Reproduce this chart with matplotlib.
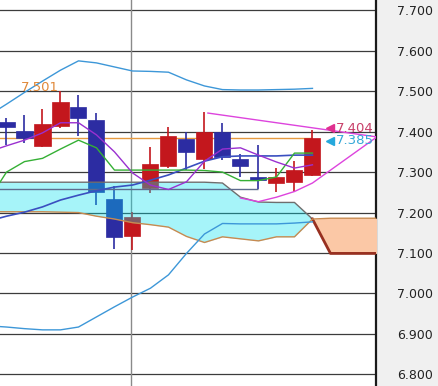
import matplotlib
matplotlib.use('Agg')
import matplotlib.pyplot as plt
import numpy as np

# ---------------- data ----------------
candle_idx = list(range(18))
opens  = [7.423, 7.402, 7.365, 7.415, 7.461, 7.429, 7.233, 7.143, 7.260, 7.315,
          7.381, 7.332, 7.398, 7.332, 7.287, 7.272, 7.275, 7.293]
highs  = [7.433, 7.441, 7.457, 7.501, 7.491, 7.445, 7.266, 7.202, 7.363, 7.412,
          7.400, 7.449, 7.422, 7.346, 7.367, 7.309, 7.328, 7.404]
lows   = [7.367, 7.372, 7.363, 7.408, 7.390, 7.219, 7.110, 7.107, 7.249, 7.309,
          7.305, 7.307, 7.330, 7.288, 7.258, 7.252, 7.252, 7.290]
closes = [7.411, 7.384, 7.419, 7.473, 7.435, 7.252, 7.140, 7.189, 7.320, 7.389,
          7.350, 7.400, 7.338, 7.315, 7.280, 7.287, 7.305, 7.385]

line_idx = list(range(-1, 18))
bb_upper = [7.440, 7.468, 7.497, 7.525, 7.552, 7.575, 7.570, 7.560, 7.550, 7.549,
            7.547, 7.528, 7.513, 7.504, 7.503, 7.503, 7.504, 7.505, 7.507]
bb_lower = [6.920, 6.917, 6.913, 6.910, 6.910, 6.917, 6.942, 6.967, 6.991, 7.013,
            7.046, 7.099, 7.147, 7.173, 7.172, 7.172, 7.172, 7.174, 7.177]
bb_mid   = [7.179, 7.191, 7.201, 7.214, 7.231, 7.243, 7.254, 7.263, 7.268, 7.280,
            7.293, 7.310, 7.327, 7.338, 7.340, 7.340, 7.340, 7.342, 7.342]
tenkan   = [7.350, 7.365, 7.379, 7.397, 7.422, 7.422, 7.392, 7.350, 7.298, 7.268,
            7.257, 7.276, 7.327, 7.357, 7.360, 7.342, 7.325, 7.310, 7.318]
kijun    = [7.231, 7.300, 7.326, 7.334, 7.357, 7.379, 7.360, 7.305, 7.305, 7.305,
            7.305, 7.305, 7.304, 7.300, 7.279, 7.279, 7.288, 7.347, 7.347]

cloud_idx = list(range(-1, 22))
span_a = [7.275] * 13 + [7.273, 7.238, 7.226, 7.225, 7.225, 7.184,
                         7.099, 7.099, 7.099, 7.099]
span_b = [7.202, 7.202, 7.202, 7.202, 7.201, 7.200, 7.191, 7.184, 7.175, 7.170,
          7.164, 7.141, 7.126, 7.140, 7.135, 7.130, 7.140, 7.140, 7.184,
          7.186, 7.186, 7.186, 7.186]

upper_tl_idx = [11.19, 20.58]
upper_tl = [7.446, 7.387]
lower_tl_idx = [13, 14, 15, 16, 17, 20.58]
lower_tl = [7.236, 7.227, 7.238, 7.252, 7.273, 7.387]

price_line = 7.384
support_line = 7.258
separator_index = 6.94

tick_values = [6.8, 6.9, 7.0, 7.1, 7.2, 7.3, 7.4, 7.5, 7.6, 7.7]
tick_labels = ['6.800', '6.900', '7.000', '7.100', '7.200', '7.300',
               '7.400', '7.500', '7.600', '7.700']

high_label = '7.501'
tl_label = '7.404'
last_label = '7.385'

# ---------------- figure ----------------
FONT = ['Liberation Sans Narrow', 'DejaVu Sans']
fig = plt.figure(figsize=(4.39, 3.86), dpi=100, facecolor='#f0f0f0')
ax = fig.add_axes([0, 0, 376 / 439, 1])
ax.set_facecolor('white')
ax.set_xlim(-0.361, 20.53)
ax.set_ylim(6.7712, 7.7255)

# grid
for v in tick_values:
    ax.axhline(v, color='#3c3c3c', lw=0.9, zorder=0.5)
ax.axvline(separator_index, color='#8a8a8a', lw=1.0, zorder=0.6)

# candles
red = '#c3171d'
blue = '#2c2ca2'
for i, o, h, l, c in zip(candle_idx, opens, highs, lows, closes):
    col = red if c >= o else blue
    ax.vlines(i, l, h, color=col, lw=1.2, zorder=2)
    ax.bar(i, abs(c - o), bottom=min(o, c), width=0.89, color=col,
           edgecolor=col, lw=0.5, zorder=2.1)

# cloud
ca = np.array(span_a)
cb = np.array(span_b)
ax.fill_between(cloud_idx, ca, cb, where=ca >= cb, interpolate=True,
                color=(0.0, 0.88, 0.94), alpha=0.35, lw=0, zorder=3)
ax.fill_between(cloud_idx, ca, cb, where=ca <= cb, interpolate=True,
                color='#fbc8a6', lw=0, zorder=3)
ax.plot(cloud_idx[:19], span_a[:19], color='#6e6e6e', lw=1.0, zorder=3.5)
ax.plot(cloud_idx[18:], span_a[18:], color='#983020', lw=2.0, zorder=3.5)
ax.plot(cloud_idx, span_b, color='#c88a50', lw=1.0, zorder=3.5)

# horizontal lines
ax.hlines(support_line, -1, 14, color='#5d6b8e', lw=1.0, zorder=3.6)
ax.hlines(price_line, -1, 17, color='#e69a40', lw=1.0, zorder=1.5)

# indicator lines
ax.plot(line_idx, bb_upper, color='#3d97d8', lw=1.0, zorder=4)
ax.plot(line_idx, bb_lower, color='#3d97d8', lw=1.0, zorder=4)
ax.plot(line_idx, bb_mid, color='#3a4fc0', lw=1.2, zorder=4)
ax.plot(line_idx, kijun, color='#35b035', lw=1.0, zorder=4)
ax.plot(line_idx, tenkan, color='#9a30d0', lw=1.0, zorder=4)

# trend lines
ax.plot(upper_tl_idx, upper_tl, color='#dd44dd', lw=1.0, zorder=4.5)
ax.plot(lower_tl_idx, lower_tl, color='#dd44dd', lw=1.0, zorder=4.5)

# annotations
ax.text(2.9, 7.510, high_label, color='#e08838', fontsize=9.5, family=FONT,
        ha='right', va='center', zorder=5)
ax.plot([17.97], [7.408], marker='<', color='#e0308f', ms=6, zorder=5)
ax.text(18.31, 7.408, tl_label, color='#c8406a', fontsize=9.5, family=FONT,
        ha='left', va='center', zorder=5)
ax.plot([17.97], [7.377], marker='<', color='#25a8dc', ms=6, zorder=5)
ax.text(18.31, 7.377, last_label, color='#35a8d8', fontsize=9.5, family=FONT,
        ha='left', va='center', zorder=5)

# axes styling
for s in ['top', 'left', 'bottom']:
    ax.spines[s].set_visible(False)
ax.spines['right'].set_color('#1a1a1a')
ax.spines['right'].set_linewidth(1.6)
ax.set_xticks([])
ax.yaxis.tick_right()
ax.set_yticks(tick_values)
ax.set_yticklabels(tick_labels, family=FONT, fontsize=9, color='#222222')
ax.tick_params(axis='y', length=0, pad=15)

fig.savefig('out.png', dpi=100, facecolor=fig.get_facecolor())
